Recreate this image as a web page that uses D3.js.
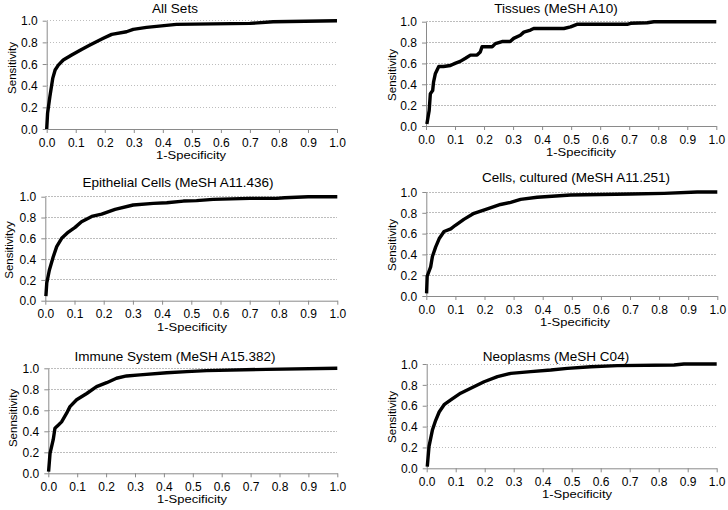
<!DOCTYPE html>
<html><head><meta charset="utf-8">
<script src="https://cdn.jsdelivr.net/npm/d3@7"></script>
<style>body{margin:0;background:#fff}svg{display:block;font-family:"Liberation Sans",Arial,sans-serif}</style>
</head><body><svg id="c" width="728" height="510"></svg>
<script>
const titles = ["All Sets","Tissues (MeSH A10)","Epithelial Cells (MeSH A11.436)","Cells, cultured (MeSH A11.251)","Immune System (MeSH A15.382)","Neoplasms (MeSH C04)"];
const yLabels = ["Sensitivity","Sensitivity","Sensitivityy","Sensitivity","Sennsitivity","Sensitivity"];
const xLabel = "1-Specificity";
const xTicks = [0,0.1,0.2,0.3,0.4,0.5,0.6,0.7,0.8,0.9,1.0];
const yTicks = [0,0.2,0.4,0.6,0.8,1.0];

const fprAll = [0,0.003,0.011,0.021,0.029,0.04,0.057,0.086,0.12,0.149,0.195,0.224,0.275,0.298,0.344,0.447,0.70,0.78,1];
const tprAll = [0,0.145,0.30,0.47,0.545,0.59,0.637,0.683,0.735,0.775,0.837,0.874,0.898,0.92,0.938,0.966,0.975,0.99,1];

const fprTissues = [0.003,0.011,0.015,0.023,0.026,0.032,0.044,0.06,0.084,0.1,0.118,0.136,0.153,0.176,0.187,0.193,0.228,0.239,0.262,0.29,0.302,0.325,0.337,0.36,0.371,0.475,0.498,0.52,0.693,0.705,0.762,0.785,1];
const tprTissues = [0.02,0.15,0.31,0.34,0.42,0.5,0.57,0.57,0.58,0.60,0.62,0.65,0.68,0.68,0.71,0.76,0.76,0.79,0.81,0.81,0.84,0.87,0.9,0.92,0.935,0.935,0.95,0.975,0.975,0.985,0.99,1,1];

const fprEpi = [0.002,0.005,0.014,0.027,0.039,0.056,0.079,0.102,0.124,0.159,0.193,0.239,0.301,0.37,0.416,0.473,0.518,0.575,0.7,0.792,0.82,0.9,1];
const tprEpi = [0.045,0.17,0.295,0.42,0.52,0.6,0.66,0.705,0.76,0.81,0.833,0.878,0.92,0.936,0.942,0.958,0.962,0.974,0.984,0.984,0.99,1,1];

const fprCult = [0.001,0.003,0.015,0.021,0.032,0.044,0.061,0.084,0.1,0.129,0.164,0.21,0.255,0.29,0.324,0.381,0.496,0.702,0.817,0.931,1];
const tprCult = [0.025,0.19,0.28,0.38,0.47,0.55,0.62,0.645,0.68,0.737,0.795,0.837,0.88,0.90,0.929,0.949,0.971,0.981,0.987,1,1];

const fprImm = [0.001,0.006,0.017,0.023,0.035,0.046,0.063,0.075,0.098,0.133,0.167,0.202,0.236,0.271,0.317,0.41,0.479,0.548,0.755,1];
const tprImm = [0.016,0.19,0.32,0.43,0.46,0.49,0.57,0.635,0.70,0.76,0.825,0.863,0.905,0.927,0.937,0.958,0.968,0.978,0.99,1];

const fprNeo = [0.002,0.008,0.02,0.031,0.043,0.06,0.083,0.117,0.152,0.198,0.244,0.29,0.359,0.428,0.485,0.566,0.657,0.853,0.887,1];
const tprNeo = [0.016,0.21,0.37,0.46,0.54,0.61,0.655,0.72,0.767,0.83,0.879,0.91,0.927,0.942,0.958,0.974,0.984,0.99,1,1];

const series = [[fprAll,tprAll],[fprTissues,tprTissues],[fprEpi,tprEpi],[fprCult,tprCult],[fprImm,tprImm],[fprNeo,tprNeo]];

const boxes = [
  {x0:46.7,x1:337,yb:129,yt:20.7, tx:175,ty:13, ax:191, lx:12,ly:68},
  {x0:426,x1:716.3,yb:126,yt:21.7, tx:556,ty:13, ax:581, lx:392,ly:75},
  {x0:45.3,x1:337.3,yb:300.7,yt:196.7, tx:178,ty:187, ax:192, lx:8.5,ly:250},
  {x0:426.3,x1:717.3,yb:296,yt:192, tx:576,ty:181.5, ax:575, lx:392,ly:245},
  {x0:48.3,x1:337.3,yb:473.3,yt:368.3, tx:175,ty:361, ax:192, lx:12.5,ly:418},
  {x0:426.7,x1:716.7,yb:468.3,yt:364, tx:556,ty:361, ax:577, lx:392,ly:417}
];

const svg = d3.select("#c");
const axisColor = "#8a8a8a";

boxes.forEach((b,i)=>{
  const x = d3.scaleLinear().domain([0,1]).range([b.x0,b.x1]);
  const y = d3.scaleLinear().domain([0,1]).range([b.yb,b.yt]);
  const g = svg.append("g");
  g.selectAll("line.grid").data(yTicks.filter(t=>t>0)).join("line")
    .attr("x1",b.x0).attr("x2",b.x1).attr("y1",d=>y(d)).attr("y2",d=>y(d))
    .attr("stroke","#bdbdbd").attr("stroke-width",1).attr("stroke-dasharray","1.5,1.5").attr("shape-rendering","crispEdges");
  const xa = g.append("g").attr("transform",`translate(0,${b.yb})`)
    .call(d3.axisBottom(x).tickValues(xTicks).tickFormat(d3.format(".1f")).tickSize(4).tickSizeOuter(0));
  const ya = g.append("g").attr("transform",`translate(${b.x0},0)`)
    .call(d3.axisLeft(y).tickValues(yTicks).tickFormat(d3.format(".1f")).tickSize(4).tickSizeOuter(0));
  [xa,ya].forEach(a=>{
    a.select(".domain").attr("stroke",axisColor);
    a.selectAll(".tick line").attr("stroke",axisColor);
    a.selectAll(".tick text").attr("fill","#000").style("font-size","12px").style("font-family","Liberation Sans, Arial, sans-serif");
  });
  xa.selectAll(".tick text").attr("dy","0").attr("y",17.5);
  ya.selectAll(".tick text").attr("x",-9).attr("dy","0.35em");
  const pts = series[i][0].map((v,k)=>[v,series[i][1][k]]);
  g.append("path").datum(pts)
    .attr("d",d3.line().x(d=>x(d[0])).y(d=>y(d[1])))
    .attr("fill","none").attr("stroke","#000").attr("stroke-width",3.4).attr("stroke-linejoin","round");
  g.append("text").attr("x",b.tx).attr("y",b.ty).attr("text-anchor","middle").style("font-size","13.5px").text(titles[i]);
  g.append("text").attr("x",b.ax).attr("y",b.yb+30).attr("text-anchor","middle").style("font-size","11.5px")
    .attr("textLength",70).attr("lengthAdjust","spacingAndGlyphs").text(xLabel);
  g.append("text").attr("transform",`translate(${b.lx+4},${b.ly}) rotate(-90)`).attr("text-anchor","middle").style("font-size","11.5px").text(yLabels[i]);
});
</script></body></html>
